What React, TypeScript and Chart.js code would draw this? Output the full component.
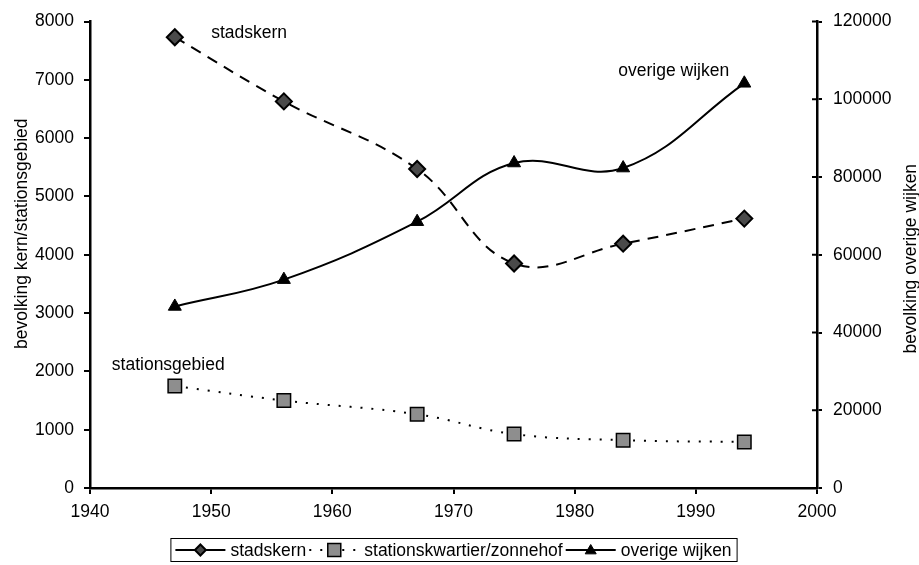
import React, { useEffect, useRef } from "react";
import { Chart, registerables } from "chart.js";
Chart.register(...registerables);

// ---- data ----
const years = [1947, 1956, 1967, 1975, 1984, 1994];
const stadskern = [7730, 6630, 5470, 3850, 4190, 4620];
const stationskwartier = [1750, 1500, 1265, 925, 820, 790];
const overigeWijken = [46700, 53600, 68500, 83600, 82300, 104100];
const seriesNames = ["stadskern", "stationskwartier/zonnehof", "overige wijken"];
const leftTitle = "bevolking kern/stationsgebied";
const rightTitle = "bevolking overige wijken";
// in-chart annotation labels (anchored in data units on the left axis)
const noteTexts = ["stadskern", "overige wijken", "stationsgebied"];
const noteYears = [1950, 1983.6, 1941.8];
const noteValues = [7710, 7060, 2017];

const FONT = "17.5px 'Liberation Sans', Arial, sans-serif";

const decorPlugin = {
  id: "decor",
  afterDraw(chart: any) {
    const ctx = chart.ctx as CanvasRenderingContext2D;
    const ca = chart.chartArea;
    const xs = chart.scales.x;
    const yl = chart.scales.y;
    const yr = chart.scales.y2;
    ctx.save();
    ctx.fillStyle = "#000";
    ctx.strokeStyle = "#000";
    ctx.font = FONT;

    // inward ticks on right axis
    ctx.lineWidth = 2;
    yr.ticks.forEach((t: any) => {
      const py = yr.getPixelForValue(t.value);
      ctx.beginPath();
      ctx.moveTo(ca.right - 5, py);
      ctx.lineTo(ca.right, py);
      ctx.stroke();
    });

    // annotations
    ctx.textAlign = "left";
    ctx.textBaseline = "alphabetic";
    noteTexts.forEach((t, i) => {
      ctx.fillText(t, xs.getPixelForValue(noteYears[i]), yl.getPixelForValue(noteValues[i]));
    });

    // axis titles
    ctx.textAlign = "center";
    ctx.textBaseline = "middle";
    const midY = (ca.top + ca.bottom) / 2;
    ctx.save();
    ctx.translate(ca.left - 68, midY - 21);
    ctx.rotate(-Math.PI / 2);
    ctx.fillText(leftTitle, 0, 0);
    ctx.restore();
    ctx.save();
    ctx.translate(chart.width - 8, midY + 4);
    ctx.rotate(-Math.PI / 2);
    ctx.fillText(rightTitle, 0, 0);
    ctx.restore();

    // legend
    const sample = 50;
    const gapText = 5;
    const gapItem = 3;
    const pad = 5;
    const widths = seriesNames.map((n) => ctx.measureText(n).width);
    const total = pad * 2 + widths.reduce((a, b) => a + b, 0) + 3 * (sample + gapText) + 2 * gapItem;
    const boxLeft = (ca.left + ca.right) / 2 - total / 2;
    const boxTop = ca.bottom + 50;
    const boxH = 23;
    ctx.lineWidth = 1;
    ctx.strokeRect(boxLeft + 0.5, boxTop + 0.5, total, boxH);
    const cy = boxTop + boxH / 2 + 0.5;
    let x = boxLeft + pad;
    const ds = chart.data.datasets;
    seriesNames.forEach((n, i) => {
      const d = ds[i];
      ctx.save();
      ctx.lineWidth = 2;
      if (i === 1) ctx.setLineDash([2, 9]);
      ctx.beginPath();
      ctx.moveTo(x, cy);
      ctx.lineTo(x + sample, cy);
      ctx.stroke();
      ctx.restore();
      ctx.save();
      ctx.fillStyle = d.pointBackgroundColor;
      ctx.strokeStyle = d.pointBorderColor;
      ctx.lineWidth = d.pointBorderWidth;
      const mx = x + sample / 2;
      const r = i === 1 ? 6.5 : 5.5;
      ctx.beginPath();
      if (i === 0) {
        ctx.moveTo(mx, cy - r);
        ctx.lineTo(mx + r, cy);
        ctx.lineTo(mx, cy + r);
        ctx.lineTo(mx - r, cy);
        ctx.closePath();
      } else if (i === 1) {
        ctx.rect(mx - r, cy - r, 2 * r, 2 * r);
      } else {
        ctx.moveTo(mx, cy - r);
        ctx.lineTo(mx + r, cy + r * 0.7);
        ctx.lineTo(mx - r, cy + r * 0.7);
        ctx.closePath();
      }
      ctx.fill();
      ctx.stroke();
      ctx.restore();
      x += sample + gapText;
      ctx.textAlign = "left";
      ctx.textBaseline = "middle";
      ctx.fillStyle = "#000";
      ctx.fillText(n, x, cy + 1);
      x += widths[i] + gapItem;
    });
    ctx.restore();
  },
};

export default function App() {
  const ref = useRef<HTMLCanvasElement | null>(null);
  useEffect(() => {
    document.body.style.margin = "0";
    const canvas = ref.current!;
    const tickFont = { family: "'Liberation Sans', Arial, sans-serif", size: 17.5 };
    const chart = new Chart(canvas, {
      type: "line",
      data: {
        datasets: [
          {
            label: seriesNames[0],
            data: years.map((x, i) => ({ x, y: stadskern[i] })),
            yAxisID: "y",
            borderColor: "#000",
            borderWidth: 2,
            borderDash: [11, 8],
            tension: 0.4,
            pointStyle: "rectRot",
            pointRadius: 8,
            pointBackgroundColor: "#4a4a4a",
            pointBorderColor: "#000",
            pointBorderWidth: 2,
            fill: false,
          },
          {
            label: seriesNames[1],
            data: years.map((x, i) => ({ x, y: stationskwartier[i] })),
            yAxisID: "y",
            borderColor: "#000",
            borderWidth: 2,
            borderDash: [2, 9],
            tension: 0.4,
            pointStyle: "rect",
            pointRadius: 9.5,
            pointBackgroundColor: "#8e8e8e",
            pointBorderColor: "#000",
            pointBorderWidth: 1.5,
            fill: false,
          },
          {
            label: seriesNames[2],
            data: years.map((x, i) => ({ x, y: overigeWijken[i] })),
            yAxisID: "y2",
            borderColor: "#000",
            borderWidth: 2,
            tension: 0.4,
            pointStyle: "triangle",
            pointRadius: 7.5,
            pointBackgroundColor: "#000",
            pointBorderColor: "#000",
            pointBorderWidth: 1,
            fill: false,
          },
        ],
      },
      options: {
        responsive: false,
        animation: false,
        devicePixelRatio: 1,
        layout: { autoPadding: false, padding: { top: 20, bottom: 37, left: 0, right: 0 } },
        plugins: { legend: { display: false }, tooltip: { enabled: false }, title: { display: false } },
        scales: {
          x: {
            type: "linear",
            min: 1940,
            max: 2000,
            ticks: { stepSize: 10, color: "#000", font: tickFont, padding: 8, callback: (v: any) => String(v), maxRotation: 0 },
            grid: { display: true, drawOnChartArea: false, drawTicks: true, tickLength: 6, color: "#000", lineWidth: 2 },
            border: { display: true, color: "#000", width: 2.5 },
            afterFit: (s: any) => { s.height = 40; },
          },
          y: {
            type: "linear",
            position: "left",
            min: 0,
            max: 8000,
            ticks: { stepSize: 1000, color: "#000", font: tickFont, padding: 10, callback: (v: any) => String(v) },
            grid: { display: true, drawOnChartArea: false, drawTicks: true, tickLength: 6, color: "#000", lineWidth: 2 },
            border: { display: true, color: "#000", width: 2.5 },
            afterFit: (s: any) => { s.width = 90; },
          },
          y2: {
            type: "linear",
            position: "right",
            min: 0,
            max: 120000,
            ticks: { stepSize: 20000, color: "#000", font: tickFont, padding: 11, callback: (v: any) => String(v) },
            grid: { display: true, drawOnChartArea: false, drawTicks: true, tickLength: 5, color: "#000", lineWidth: 2 },
            border: { display: true, color: "#000", width: 2.5 },
            afterFit: (s: any) => { s.width = 102; },
          },
        },
      },
      plugins: [decorPlugin],
    } as any);
    return () => chart.destroy();
  }, []);
  return (
    <div style={{ width: 919, height: 565, background: "#fff" }}>
      <canvas ref={ref} width={919} height={565} style={{ display: "block", width: 919, height: 565 }} />
    </div>
  );
}
